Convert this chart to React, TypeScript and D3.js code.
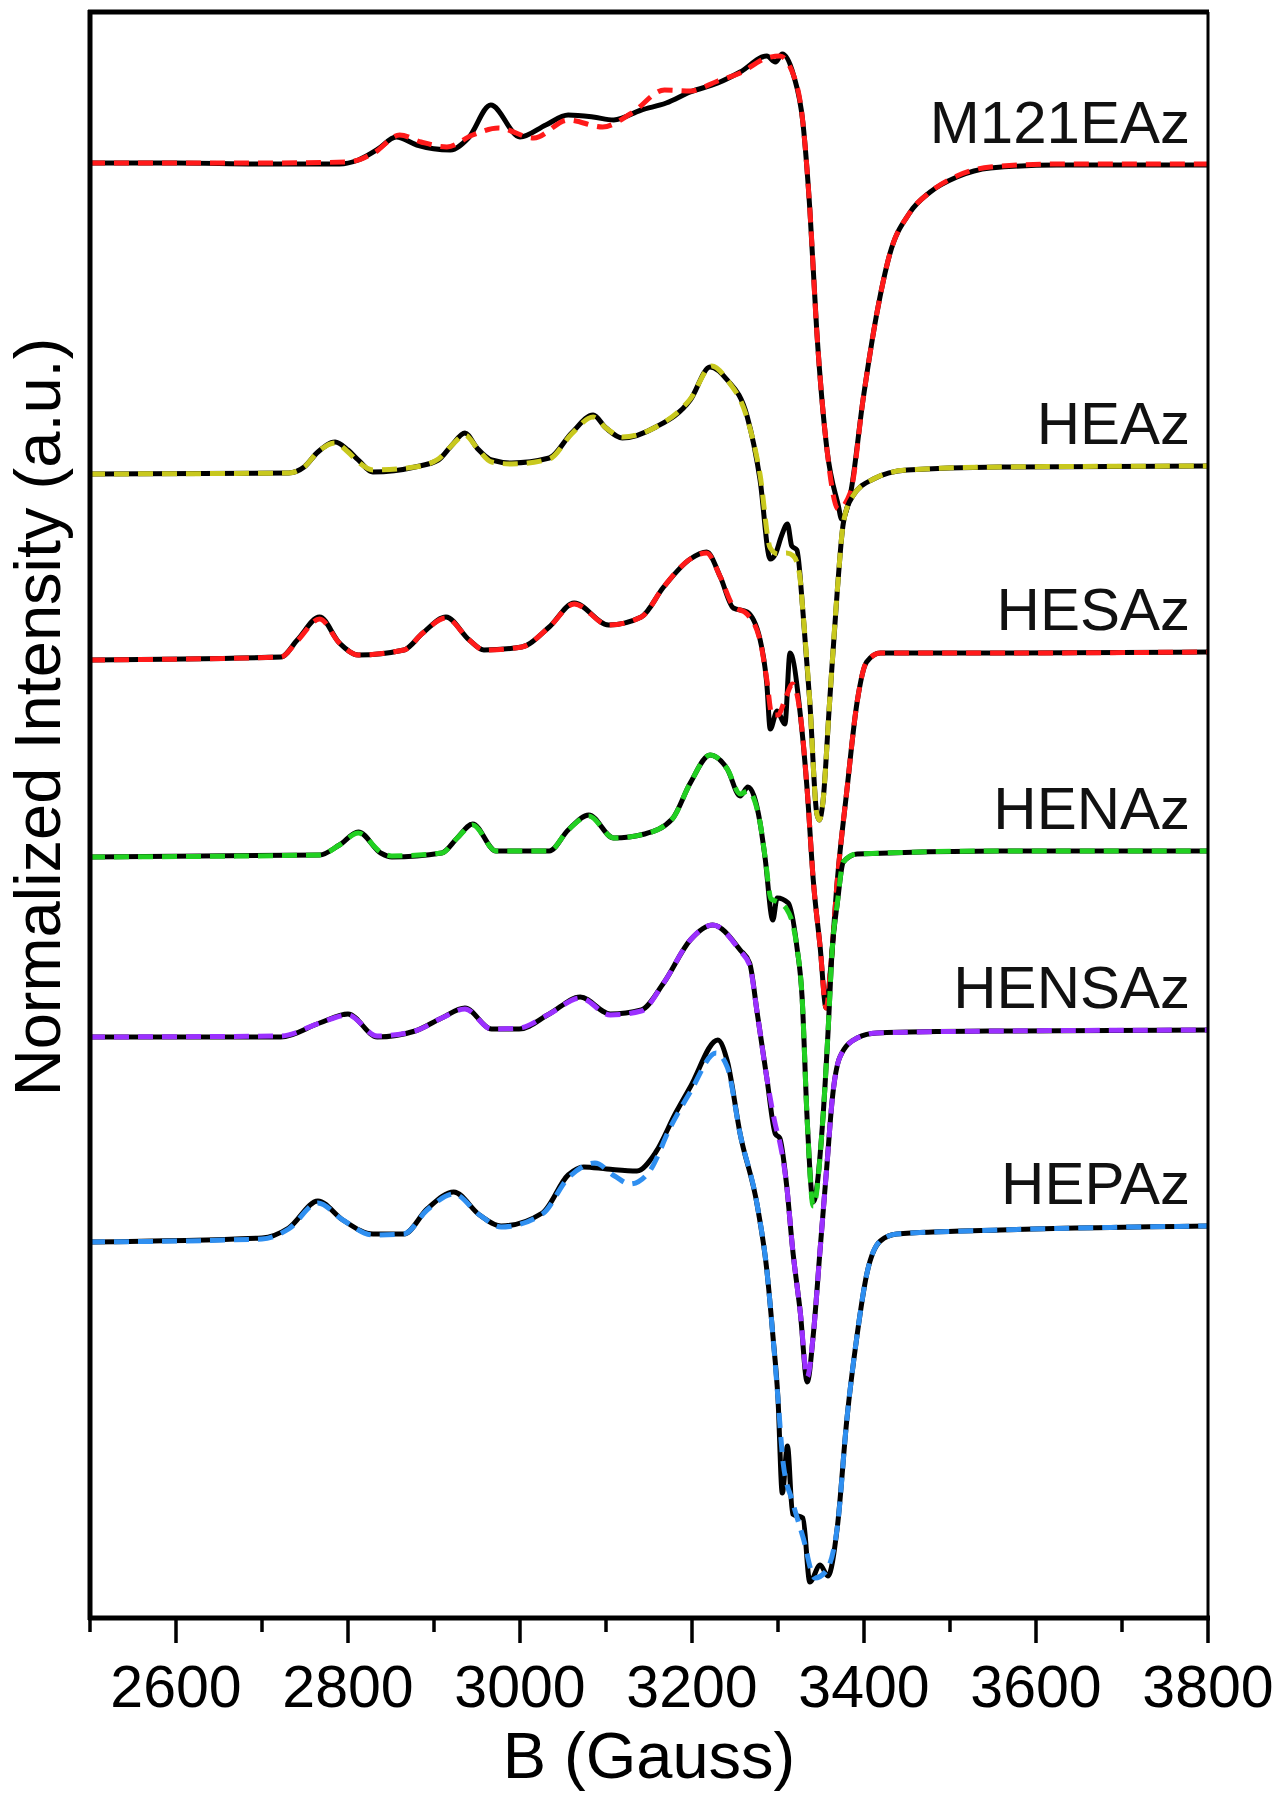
import React from "react";
import * as d3 from "d3";

// EPR spectra (B in Gauss, intensity in a.u. relative to each trace's baseline)
const MAJOR_TICKS = [2600, 2800, 3000, 3200, 3400, 3600, 3800];
const MINOR_TICKS = [2500, 2700, 2900, 3100, 3300, 3500, 3700];

const NAMES = ["M121EAz", "HEAz", "HESAz", "HENAz", "HENSAz", "HEPAz"];
const OFFSETS = [14.55, 11.44, 9.58, 7.61, 5.81, 3.76];
const FIT_COLORS = ["#ff1a1a", "#c8c81e", "#ff1a1a", "#22d022", "#9b30ff", "#2f8ff0"];

const m121Exp = [[2500,0],[2600,0],[2700,-0.01],[2790,-0.01],[2812,0.03],[2835,0.14],[2856,0.26],[2880,0.18],[2919,0.13],[2940,0.25],[2966,0.58],[3000,0.26],[3030,0.38],[3056,0.48],[3085,0.46],[3109,0.43],[3141,0.53],[3170,0.6],[3198,0.71],[3230,0.8],[3256,0.91],[3287,1.07],[3297,1.01],[3305,1.09],[3318,0.88],[3329,0.4],[3337,-0.46],[3345,-1.67],[3357,-2.87],[3370,-3.42],[3374,-3.56],[3384,-3.32],[3399,-2.36],[3415,-1.5],[3430,-0.91],[3453,-0.5],[3477,-0.29],[3508,-0.14],[3547,-0.05],[3624,-0.02],[3800,-0.02]];
const m121Fit = [[2500,0],[2700,0],[2800,0.01],[2830,0.1],[2860,0.28],[2885,0.21],[2915,0.16],[2945,0.28],[2975,0.35],[3016,0.25],[3056,0.43],[3096,0.36],[3130,0.5],[3168,0.73],[3198,0.72],[3230,0.82],[3256,0.9],[3287,1.05],[3302,1.07],[3318,0.88],[3329,0.4],[3337,-0.46],[3345,-1.67],[3357,-2.87],[3370,-3.46],[3384,-3.3],[3399,-2.36],[3415,-1.5],[3430,-0.91],[3453,-0.5],[3477,-0.29],[3508,-0.13],[3547,-0.04],[3624,-0.01],[3800,-0.01]];

const heazExp = [[2500,0],[2731,0.01],[2749,0.07],[2765,0.22],[2785,0.32],[2800,0.24],[2812,0.14],[2829,0.02],[2878,0.07],[2905,0.14],[2920,0.28],[2936,0.41],[2950,0.26],[2967,0.14],[2990,0.11],[3034,0.16],[3060,0.41],[3085,0.59],[3100,0.46],[3119,0.36],[3158,0.47],[3198,0.74],[3221,1.07],[3241,0.94],[3264,0.58],[3279,-0.05],[3291,-0.85],[3297,-0.8],[3304,-0.62],[3311,-0.5],[3316,-0.72],[3322,-0.76],[3329,-1.38],[3337,-2.28],[3345,-3.39],[3348,-3.46],[3352,-3.3],[3360,-2.28],[3369,-1.16],[3376,-0.49],[3387,-0.22],[3411,-0.05],[3450,0.04],[3558,0.07],[3800,0.08]];
const heazFit = [[2500,0],[2731,0.01],[2749,0.07],[2765,0.22],[2785,0.31],[2800,0.22],[2812,0.12],[2829,0.04],[2878,0.07],[2905,0.15],[2920,0.28],[2936,0.39],[2950,0.26],[2967,0.12],[2990,0.1],[3034,0.15],[3060,0.4],[3085,0.57],[3100,0.46],[3119,0.37],[3158,0.47],[3198,0.75],[3223,1.08],[3241,0.94],[3264,0.56],[3279,0],[3291,-0.74],[3300,-0.8],[3310,-0.79],[3318,-0.82],[3325,-1.0],[3329,-1.38],[3337,-2.28],[3345,-3.39],[3348,-3.46],[3352,-3.3],[3360,-2.28],[3369,-1.16],[3376,-0.49],[3387,-0.22],[3411,-0.05],[3450,0.04],[3558,0.07],[3800,0.08]];

const hesazExp = [[2500,0],[2722,0.03],[2741,0.2],[2767,0.43],[2790,0.17],[2812,0.05],[2865,0.1],[2887,0.27],[2914,0.43],[2941,0.2],[2958,0.1],[3002,0.13],[3034,0.33],[3063,0.57],[3103,0.35],[3141,0.43],[3167,0.73],[3198,1.01],[3217,1.08],[3233,0.83],[3248,0.52],[3264,0.48],[3279,0.21],[3287,-0.24],[3291,-0.69],[3299,-0.51],[3308,-0.64],[3314,0.07],[3326,-0.55],[3334,-1.31],[3341,-2.2],[3349,-2.87],[3356,-3.48],[3361,-3.1],[3369,-2.2],[3380,-1.31],[3392,-0.42],[3403,-0.02],[3419,0.07],[3558,0.07],[3800,0.08]];
const hesazFit = [[2500,0],[2722,0.03],[2741,0.19],[2767,0.41],[2790,0.17],[2812,0.05],[2865,0.1],[2887,0.27],[2914,0.42],[2941,0.2],[2958,0.1],[3002,0.13],[3034,0.33],[3063,0.56],[3103,0.35],[3141,0.43],[3167,0.73],[3198,1.01],[3217,1.07],[3233,0.83],[3248,0.54],[3264,0.46],[3279,0.2],[3287,-0.2],[3293,-0.55],[3300,-0.55],[3308,-0.4],[3317,-0.24],[3326,-0.55],[3334,-1.31],[3341,-2.2],[3349,-2.87],[3356,-3.48],[3361,-3.1],[3369,-2.2],[3380,-1.31],[3392,-0.42],[3403,-0.02],[3419,0.07],[3558,0.07],[3800,0.08]];

const henazExp = [[2500,0],[2767,0.02],[2790,0.12],[2812,0.25],[2838,0.04],[2851,0],[2909,0.04],[2927,0.19],[2945,0.33],[2972,0.06],[3034,0.06],[3056,0.27],[3080,0.42],[3109,0.19],[3145,0.23],[3177,0.38],[3198,0.74],[3221,1.02],[3241,0.88],[3256,0.61],[3265,0.7],[3279,0.35],[3285,-0.01],[3294,-0.63],[3299,-0.41],[3312,-0.46],[3322,-0.9],[3328,-1.4],[3334,-2.64],[3341,-3.45],[3352,-2.64],[3358,-1.78],[3363,-0.93],[3369,-0.46],[3376,-0.05],[3392,0.03],[3558,0.06],[3800,0.06]];
const henazFit = [[2500,0],[2767,0.02],[2790,0.12],[2812,0.24],[2838,0.05],[2851,0.01],[2909,0.04],[2927,0.19],[2945,0.32],[2972,0.06],[3034,0.06],[3056,0.27],[3080,0.41],[3109,0.19],[3145,0.23],[3177,0.38],[3198,0.74],[3221,1.02],[3241,0.88],[3256,0.63],[3265,0.66],[3279,0.35],[3285,0],[3292,-0.42],[3300,-0.45],[3310,-0.52],[3318,-0.7],[3322,-0.9],[3328,-1.4],[3334,-2.64],[3341,-3.49],[3352,-2.64],[3358,-1.78],[3363,-0.93],[3369,-0.46],[3376,-0.05],[3392,0.03],[3558,0.06],[3800,0.06]];

const hensazExp = [[2500,0],[2722,0],[2767,0.14],[2800,0.23],[2834,0],[2878,0.06],[2909,0.19],[2936,0.29],[2967,0.08],[2999,0.08],[3034,0.23],[3070,0.4],[3105,0.23],[3141,0.27],[3167,0.54],[3198,0.97],[3224,1.12],[3256,0.87],[3267,0.74],[3276,0.23],[3287,-0.41],[3297,-0.97],[3302,-1.01],[3310,-1.48],[3317,-2.12],[3326,-2.76],[3334,-3.45],[3341,-2.98],[3349,-2.12],[3357,-1.27],[3363,-0.63],[3372,-0.2],[3392,-0.01],[3415,0.04],[3558,0.06],[3800,0.07]];
const hensazFit = [[2500,0],[2722,0.01],[2767,0.14],[2800,0.22],[2834,0.01],[2878,0.06],[2909,0.19],[2936,0.28],[2967,0.08],[2999,0.09],[3034,0.23],[3070,0.39],[3105,0.22],[3141,0.26],[3167,0.54],[3198,0.97],[3224,1.12],[3256,0.86],[3267,0.72],[3276,0.23],[3287,-0.41],[3297,-0.88],[3302,-1.05],[3310,-1.48],[3317,-2.12],[3326,-2.76],[3334,-3.4],[3341,-2.98],[3349,-2.12],[3357,-1.27],[3363,-0.63],[3372,-0.2],[3392,-0.01],[3415,0.04],[3558,0.06],[3800,0.07]];

const hepazExp = [[2500,0],[2700,0.04],[2731,0.14],[2765,0.41],[2794,0.22],[2829,0.08],[2865,0.08],[2892,0.33],[2923,0.5],[2953,0.27],[2978,0.16],[3026,0.29],[3056,0.67],[3074,0.75],[3101,0.73],[3136,0.71],[3158,0.9],[3181,1.29],[3198,1.55],[3230,2.02],[3241,1.81],[3256,1.08],[3276,0.36],[3287,-0.28],[3294,-0.93],[3300,-1.57],[3305,-2.51],[3311,-2.04],[3317,-2.72],[3329,-2.76],[3337,-3.4],[3349,-3.23],[3358,-3.34],[3369,-2.85],[3380,-1.78],[3392,-0.93],[3403,-0.33],[3419,0.01],[3438,0.08],[3558,0.12],[3800,0.16]];
const hepazFit = [[2500,0],[2700,0.03],[2731,0.13],[2765,0.39],[2794,0.22],[2829,0.07],[2865,0.08],[2892,0.32],[2923,0.48],[2953,0.27],[2978,0.15],[3026,0.28],[3056,0.64],[3087,0.79],[3110,0.66],[3128,0.58],[3150,0.7],[3175,1.15],[3198,1.5],[3228,1.89],[3241,1.75],[3256,1.08],[3276,0.36],[3287,-0.28],[3294,-0.93],[3300,-1.57],[3306,-2.21],[3317,-2.6],[3329,-2.95],[3343,-3.36],[3355,-3.3],[3369,-2.85],[3380,-1.78],[3392,-0.93],[3403,-0.33],[3419,0.01],[3438,0.08],[3558,0.12],[3800,0.16]];

const EXPERIMENTS = [m121Exp, heazExp, hesazExp, henazExp, hensazExp, hepazExp];
const FITS = [m121Fit, heazFit, hesazFit, henazFit, hensazFit, hepazFit];

const W = 1278;
const H = 1800;
const LEFT = 90;
const RIGHT = 1208;
const TOP = 12;
const BOTTOM = 1618;
const FONT = "'Liberation Sans', Arial, Helvetica, sans-serif";

export default function App() {
  const x = d3.scaleLinear().domain([2500, 3800]).range([LEFT, RIGHT]);
  const y = d3.scaleLinear().domain([0, 16.06]).range([BOTTOM, TOP]);

  const lineFor = (offset: number) =>
    d3
      .line<number[]>()
      .x((d) => x(d[0]))
      .y((d) => y(d[1] + offset))
      .curve(d3.curveMonotoneX);

  return (
    <svg
      width={W}
      height={H}
      style={{ position: "absolute", left: 0, top: 0, background: "#fff" }}
      fontFamily={FONT}
    >
      <rect x={0} y={0} width={W} height={H} fill="#fff" />

      {/* spectra: experiment (black) then simulation (coloured dash) */}
      {NAMES.map((name, i) => {
        const gen = lineFor(OFFSETS[i]);
        return (
          <g key={name}>
            <path
              d={gen(EXPERIMENTS[i]) || ""}
              fill="none"
              stroke="#000"
              strokeWidth={5}
              strokeLinejoin="round"
            />
            <path
              d={gen(FITS[i]) || ""}
              fill="none"
              stroke={FIT_COLORS[i]}
              strokeWidth={5}
              strokeDasharray="15 9"
            />
          </g>
        );
      })}

      {/* trace labels */}
      {NAMES.map((name, i) => {
        const last = EXPERIMENTS[i][EXPERIMENTS[i].length - 1];
        return (
          <text
            key={`lbl-${name}`}
            x={1190}
            y={y(last[1] + OFFSETS[i]) - 22}
            textAnchor="end"
            fontSize={60}
            fill="#111"
          >
            {name}
          </text>
        );
      })}

      {/* frame */}
      <line x1={LEFT - 2} x2={RIGHT + 1} y1={TOP} y2={TOP} stroke="#000" strokeWidth={5} />
      <line x1={RIGHT} x2={RIGHT} y1={TOP} y2={BOTTOM} stroke="#000" strokeWidth={3} />
      <line x1={LEFT} x2={LEFT} y1={TOP - 2} y2={BOTTOM + 2} stroke="#000" strokeWidth={5} />
      <line x1={LEFT - 2} x2={RIGHT + 2} y1={BOTTOM} y2={BOTTOM} stroke="#000" strokeWidth={5} />

      {/* x ticks */}
      {MAJOR_TICKS.map((t) => (
        <g key={`mj-${t}`}>
          <line x1={x(t)} x2={x(t)} y1={BOTTOM} y2={BOTTOM + 25} stroke="#000" strokeWidth={3.5} />
          <text x={x(t)} y={1707} textAnchor="middle" fontSize={59} fill="#000">
            {t}
          </text>
        </g>
      ))}
      {MINOR_TICKS.map((t) => (
        <line key={`mn-${t}`} x1={x(t)} x2={x(t)} y1={BOTTOM} y2={BOTTOM + 14} stroke="#000" strokeWidth={3.5} />
      ))}

      {/* axis titles */}
      <text x={(LEFT + RIGHT) / 2} y={1778} textAnchor="middle" fontSize={65} fill="#000">
        B (Gauss)
      </text>
      <text
        transform={`translate(60, ${(TOP + BOTTOM) / 2 - 98}) rotate(-90)`}
        textAnchor="middle"
        fontSize={65}
        fill="#000"
      >
        Normalized Intensity (a.u.)
      </text>
    </svg>
  );
}
